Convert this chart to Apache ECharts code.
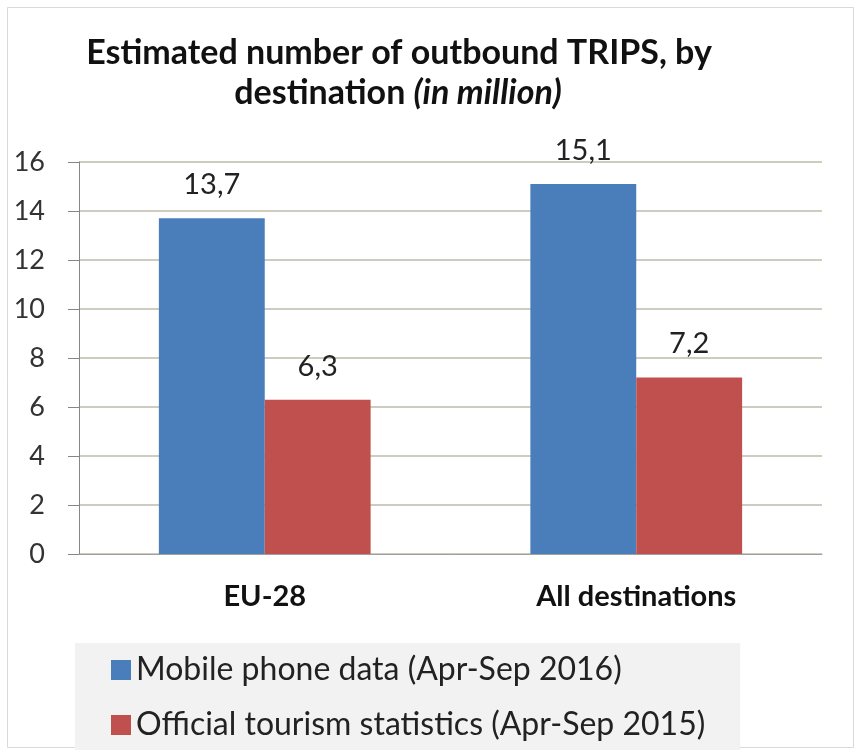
<!DOCTYPE html>
<html>
<head>
<meta charset="utf-8">
<script src="https://cdn.jsdelivr.net/npm/echarts@6/dist/echarts.min.js"></script>
<style>
  html, body { margin: 0; padding: 0; background: #ffffff; }
  #chart { width: 857px; height: 750px; }
</style>
</head>
<body>
<div id="chart"></div>
<script>
const categories = ['EU-28', 'All destinations'];
const seriesNames = ['Mobile phone data (Apr-Sep 2016)', 'Official tourism statistics (Apr-Sep 2015)'];
const mobileValues = [13.7, 15.1];
const officialValues = [6.3, 7.2];
const yTicks = [0, 2, 4, 6, 8, 10, 12, 14, 16];
const titleLine1 = 'Estimated number of outbound TRIPS, by';
const titleLine2a = 'destination';
const titleLine2b = '(in million)';

const FONT = 'Lato, Carlito, "Open Sans", sans-serif';
const fmt = v => String(v).replace('.', ',');

const chart = echarts.init(document.getElementById('chart'), null, { renderer: 'canvas' });
const option = {
  backgroundColor: '#ffffff',
  animation: false,
  graphic: [{
    type: 'rect',
    shape: { x: 7.5, y: 7.5, width: 846, height: 740 },
    style: { fill: 'none', stroke: '#d9d9d9', lineWidth: 1 },
    z: -1
  }],
  title: [{
    text: titleLine1,
    left: 394, top: 31, textAlign: 'center',
    textStyle: { fontFamily: FONT, fontWeight: 'bold', fontSize: 34, color: '#111111' }
  }, {
    text: '{n|' + titleLine2a + '} {i|' + titleLine2b + '}',
    left: 393, top: 71, textAlign: 'center',
    textStyle: {
      fontFamily: FONT, fontWeight: 'bold', fontSize: 34, color: '#111111',
      rich: {
        n: { fontFamily: FONT, fontWeight: 'bold', fontSize: 34, color: '#111111' },
        i: { fontFamily: FONT, fontWeight: 'bold', fontStyle: 'italic', fontSize: 34, color: '#111111' }
      }
    }
  }],
  legend: {
    orient: 'vertical',
    left: 75, top: 643,
    padding: [10, 35, 8, 36],
    backgroundColor: '#f2f2f2',
    itemWidth: 20, itemHeight: 20,
    itemGap: 21,
    icon: 'rect',
    textStyle: { fontFamily: FONT, fontSize: 32, color: '#222222', lineHeight: 34 },
    data: seriesNames
  },
  grid: { left: 79, right: 35, top: 162, bottom: 196, containLabel: false },
  xAxis: {
    type: 'category',
    data: categories,
    axisLine: { show: true, lineStyle: { color: '#a0a0a0', width: 1 } },
    axisTick: { show: false },
    axisLabel: { fontFamily: FONT, fontWeight: 'bold', fontSize: 29, color: '#111111', margin: 28 }
  },
  yAxis: {
    type: 'value',
    min: 0, max: 16, interval: 2,
    axisLine: { show: true, lineStyle: { color: '#868686', width: 1 } },
    axisTick: { show: true, inside: false, length: 11, lineStyle: { color: '#868686' } },
    axisLabel: {
      fontFamily: FONT, fontSize: 27, color: '#333333', margin: 34,
      formatter: v => (yTicks.indexOf(v) >= 0 ? String(v) : '')
    },
    splitLine: { show: true, lineStyle: { color: '#bdbba8', width: 1.5 } }
  },
  series: [{
    name: seriesNames[0],
    type: 'bar',
    data: mobileValues,
    barGap: '0%',
    barCategoryGap: '43%',
    itemStyle: { color: '#4a7ebb' },
    label: {
      show: true, position: 'top', distance: 19,
      fontFamily: FONT, fontSize: 29, color: '#222222',
      formatter: p => fmt(p.value)
    }
  }, {
    name: seriesNames[1],
    type: 'bar',
    data: officialValues,
    barGap: '0%',
    barCategoryGap: '43%',
    itemStyle: { color: '#c0504d' },
    label: {
      show: true, position: 'top', distance: 19,
      fontFamily: FONT, fontSize: 29, color: '#222222',
      formatter: p => fmt(p.value)
    }
  }]
};
chart.setOption(option);
</script>
</body>
</html>
